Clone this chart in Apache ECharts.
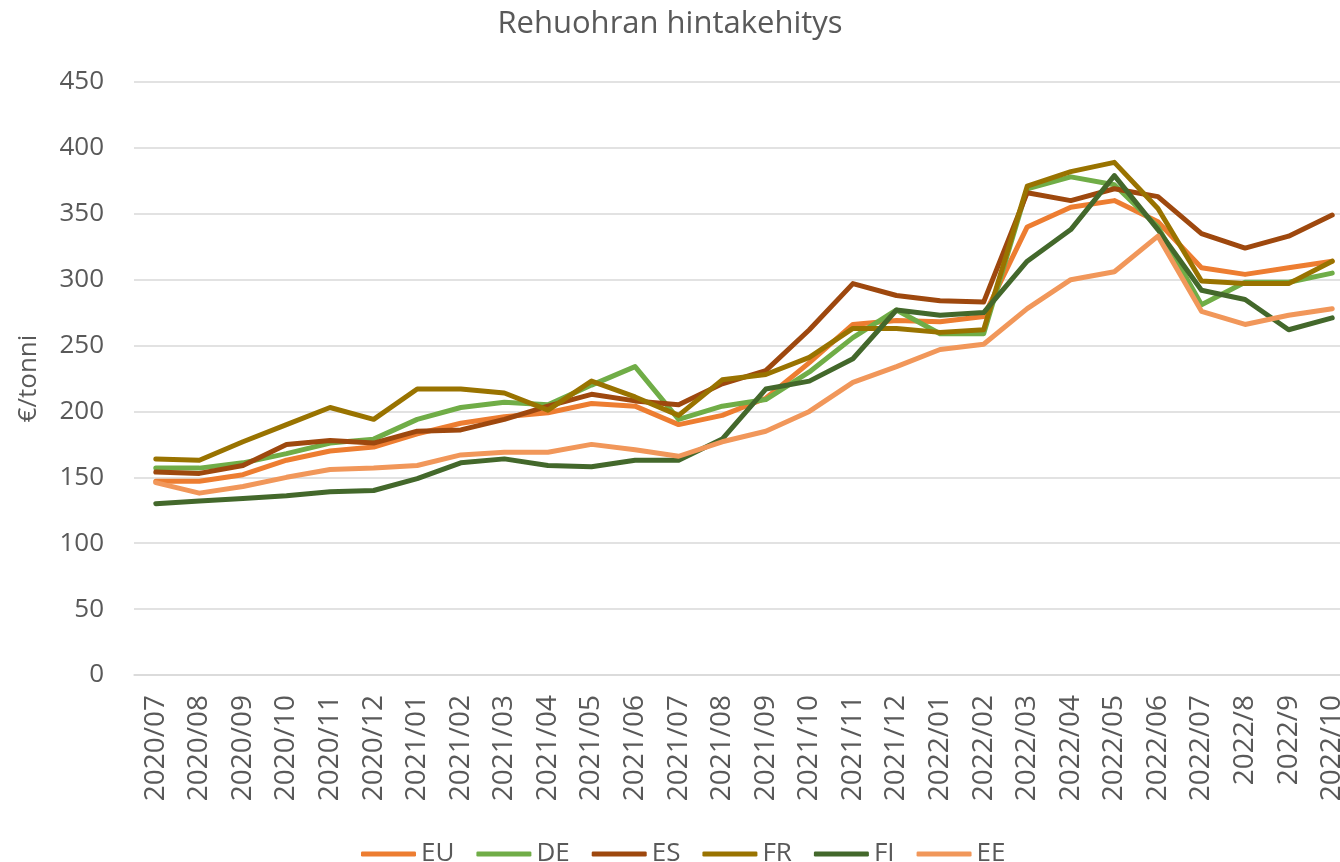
<!DOCTYPE html>
<html>
<head>
<meta charset="utf-8">
<title>Rehuohran hintakehitys</title>
<script src="https://cdn.jsdelivr.net/npm/echarts@6/dist/echarts.min.js"></script>
<style>
  html, body { margin: 0; padding: 0; background: #fff; overflow: hidden; }
  #chart { width: 1340px; height: 862px; }
</style>
</head>
<body>
<div id="chart"></div>
<script>
// kuukaudet
var months = ['2020/07', '2020/08', '2020/09', '2020/10', '2020/11', '2020/12',
    '2021/01', '2021/02', '2021/03', '2021/04', '2021/05', '2021/06',
    '2021/07', '2021/08', '2021/09', '2021/10', '2021/11', '2021/12',
    '2022/01', '2022/02', '2022/03', '2022/04', '2022/05', '2022/06',
    '2022/07', '2022/8', '2022/9', '2022/10'];

// hinnat €/tonni
var euData = [147, 147, 152, 163, 170, 173, 183, 191, 196, 199, 206, 204, 190, 197, 210, 237, 266, 269, 268, 272, 340, 355, 360, 344, 309, 304, 309, 314];
var deData = [157, 157, 161, 168, 176, 179, 194, 203, 207, 205, 220, 234, 194, 204, 209, 230, 256, 277, 259, 259, 369, 378, 372, 340, 281, 298, 298, 305];
var esData = [154, 153, 159, 175, 178, 176, 185, 186, 194, 204, 213, 208, 205, 221, 231, 262, 297, 288, 284, 283, 366, 360, 369, 363, 335, 324, 333, 349];
var frData = [164, 163, 177, 190, 203, 194, 217, 217, 214, 201, 223, 211, 197, 224, 228, 241, 263, 263, 260, 262, 371, 382, 389, 354, 299, 297, 297, 314];
var fiData = [130, 132, 134, 136, 139, 140, 149, 161, 164, 159, 158, 163, 163, 179, 217, 223, 240, 277, 273, 275, 314, 338, 379, 338, 292, 285, 262, 271];
var eeData = [146, 138, 143, 150, 156, 157, 159, 167, 169, 169, 175, 171, 166, 177, 185, 200, 222, 234, 247, 251, 278, 300, 306, 333, 276, 266, 273, 278];

var yTicks = { min: 0, max: 450, step: 50 };

var font = '"Open Sans", "Noto Sans", sans-serif';
var textColor = '#595959';
var gridColor = '#D9D9D9';

var myChart = echarts.init(document.getElementById('chart'));

function lineSeries(name, data, color) {
    return {
        name: name,
        type: 'line',
        data: data,
        symbol: 'none',
        smooth: false,
        lineStyle: { width: 5, color: color, cap: 'round', join: 'round' },
        itemStyle: { color: color }
    };
}

var series = [
    lineSeries('EU', euData, '#ED7D31'),
    lineSeries('DE', deData, '#70AD47'),
    lineSeries('ES', esData, '#9E480E'),
    lineSeries('FR', frData, '#997300'),
    lineSeries('FI', fiData, '#43682B'),
    lineSeries('EE', eeData, '#F1975A')
];

var option = {
    animation: false,
    backgroundColor: '#fff',
    textStyle: { fontFamily: font, color: textColor },
    title: {
        text: 'Rehuohran hintakehitys',
        left: 'center',
        top: 4,
        textStyle: { fontFamily: font, fontSize: 31, fontWeight: 'normal', color: textColor }
    },
    legend: {
        data: ['EU', 'DE', 'ES', 'FR', 'FI', 'EE'],
        left: 356,
        top: 836,
        icon: 'roundRect',
        itemWidth: 55,
        itemHeight: 5,
        itemGap: 22,
        textStyle: { fontFamily: font, fontSize: 26, color: textColor, padding: [0, 0, 0, 0] }
    },
    // plot runs past the right edge, as in the original
    grid: {
        left: 134,
        top: 82,
        width: 1220,
        bottom: 187,
        containLabel: false,
        outerBoundsMode: 'none'
    },
    xAxis: {
        type: 'category',
        data: months,
        boundaryGap: true,
        axisLine: { lineStyle: { color: gridColor, width: 1.5 } },
        axisTick: { show: false },
        axisLabel: {
            rotate: 90,
            interval: 0,
            margin: 20,
            fontFamily: font,
            fontSize: 28,
            color: textColor
        }
    },
    yAxis: {
        type: 'value',
        min: yTicks.min,
        max: yTicks.max,
        interval: yTicks.step,
        name: '€/tonni',
        nameLocation: 'middle',
        nameGap: 92,
        nameTextStyle: { fontFamily: font, fontSize: 26, color: textColor },
        axisLine: { show: false },
        axisTick: { show: false },
        axisLabel: { margin: 30, fontFamily: font, fontSize: 26, color: textColor },
        splitLine: { lineStyle: { color: gridColor, width: 1.5 } }
    },
    series: series
};

myChart.setOption(option);
</script>
</body>
</html>
